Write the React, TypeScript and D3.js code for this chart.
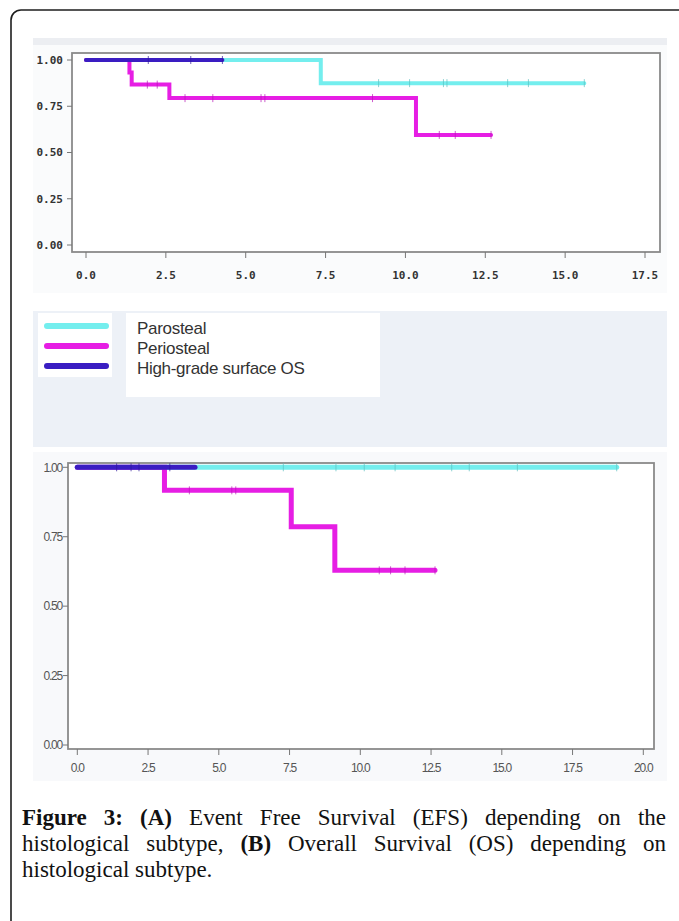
import React from "react";
import * as d3 from "d3";

// colours of the three subtypes
const groups = ["Parosteal", "Periosteal", "High-grade surface OS"];
const groupColors = ["#74eeee", "#e61ee4", "#3a1dc2"];

// (A) Event free survival: step times / survival, last follow-up, censor marks
const efsTimes = [[0, 7.35], [0, 1.36, 1.43, 2.61, 10.33], [0]];
const efsSurv = [[1, 0.875], [1, 0.933, 0.867, 0.794, 0.595], [1]];
const efsEnd = [15.6, 12.68, 4.27];
const efsCensor = [
  [9.16, 10.13, 11.19, 11.3, 13.2, 13.85, 15.6],
  [1.92, 2.23, 3.1, 3.97, 5.48, 5.6, 8.97, 11.06, 11.56, 12.68],
  [1.95, 3.28, 4.27],
];

// (B) Overall survival
const osTimes = [[0], [0, 3.08, 7.56, 9.1], [0]];
const osSurv = [[1], [1, 0.917, 0.786, 0.629], [1]];
const osEnd = [19.06, 12.64, 4.16];
const osCensor = [
  [7.28, 9.14, 10.14, 11.23, 13.23, 13.85, 15.55, 19.06],
  [3.96, 5.46, 5.6, 10.67, 11.07, 11.58, 12.64],
  [1.39, 1.9, 2.18, 3.27],
];

const yTicks = [0, 0.25, 0.5, 0.75, 1];
const efsXTicks = [0, 2.5, 5, 7.5, 10, 12.5, 15, 17.5];
const osXTicks = [0, 2.5, 5, 7.5, 10, 12.5, 15, 17.5, 20];

const captionLines = [
  [["Figure", 1], ["3:", 1], ["(A)", 1], ["Event", 0], ["Free", 0], ["Survival", 0], ["(EFS)", 0], ["depending", 0], ["on", 0], ["the", 0]],
  [["histological", 0], ["subtype,", 0], ["(B)", 1], ["Overall", 0], ["Survival", 0], ["(OS)", 0], ["depending", 0], ["on", 0]],
  [["histological", 0], ["subtype.", 0]],
];

function KMPanel(props: any) {
  const { x, y, times, surv, ends, censor, lineW, tickFmt, yFmt, mono } = props;
  const line = d3.line<[number, number]>()
    .x(d => x(d[0]))
    .y(d => y(d[1]))
    .curve(d3.curveStepAfter);
  const labelStyle = mono
    ? { fontFamily: "'DejaVu Sans Mono', monospace", fontWeight: 700, fontSize: 11, fill: "#333" }
    : { fontFamily: "'Liberation Sans', Arial, sans-serif", fontSize: 12, fill: "#555", letterSpacing: -1.2 };
  const [x0, x1] = props.box[0];
  const [y0, y1] = props.box[1];
  return (
    <g>
      <rect x={props.panel[0]} y={props.panel[1]} width={props.panel[2]} height={props.panel[3]} fill={props.panelFill} />
      {props.strip && <rect x={props.panel[0]} y={props.panel[1]} width={props.panel[2]} height={7} fill="#eceef2" />}
      <rect x={x0} y={y0} width={x1 - x0} height={y1 - y0} fill="#fff" stroke="#8a8a8a" strokeWidth={1.8} />
      {yTicks.map(t => (
        <g key={"y" + t}>
          <line x1={x0 - 5} x2={x0} y1={y(t)} y2={y(t)} stroke="#777" strokeWidth={1} />
          <text x={x0 - (mono ? 9 : 6)} y={y(t)} dy="0.35em" textAnchor="end" style={labelStyle as any}>{yFmt(t)}</text>
        </g>
      ))}
      {props.xTicks.map((t: number) => (
        <g key={"x" + t}>
          <line x1={x(t)} x2={x(t)} y1={y1} y2={y1 + 6} stroke="#777" strokeWidth={1} />
          <text x={x(t)} y={y1 + props.labelGap} textAnchor="middle" style={labelStyle as any}>{tickFmt(t)}</text>
        </g>
      ))}
      {groups.map((g, i) => {
        const pts: [number, number][] = times[i].map((t: number, j: number) => [t, surv[i][j]]);
        pts.push([ends[i], surv[i][surv[i].length - 1]]);
        const at = (t: number) => {
          let s = surv[i][0];
          times[i].forEach((tt: number, j: number) => { if (tt <= t) s = surv[i][j]; });
          return s;
        };
        const dark = d3.color(groupColors[i])!.darker(0.6).toString();
        return (
          <g key={g}>
            <path d={line(pts) || ""} fill="none" stroke={groupColors[i]} strokeWidth={lineW} strokeLinecap="round" />
            {censor[i].map((c: number, k: number) => (
              <line key={k} x1={x(c)} x2={x(c)} y1={y(at(c)) - 4} y2={y(at(c)) + 4} stroke={dark} strokeWidth={1} opacity={0.7} />
            ))}
          </g>
        );
      })}
    </g>
  );
}

function Caption() {
  const size = 23;
  const ctx = document.createElement("canvas").getContext("2d")!;
  const measure = (w: string, b: number) => {
    ctx.font = `${b ? "bold " : ""}${size}px "Liberation Serif"`;
    return ctx.measureText(w).width;
  };
  const left = 22, right = 666;
  const baselines = [825, 851, 877];
  return (
    <g style={{ fontFamily: "'Liberation Serif', serif", fontSize: size, fill: "#111" }}>
      {captionLines.map((words, li) => {
        const widths = words.map(w => measure(w[0] as string, w[1] as number));
        const total = d3.sum(widths);
        const last = li === captionLines.length - 1;
        const gap = last ? measure(" ", 0) : (right - left - total) / (words.length - 1);
        let cx = left;
        return words.map((w, k) => {
          const el = (
            <text key={li + "-" + k} x={cx} y={baselines[li]} fontWeight={w[1] ? 700 : 400}>{w[0]}</text>
          );
          cx += widths[k] + gap;
          return el;
        });
      })}
    </g>
  );
}

export default function App() {
  const xA = d3.scaleLinear().domain([0, 17.5]).range([86, 645]);
  const yA = d3.scaleLinear().domain([0, 1]).range([245, 60]);
  const xB = d3.scaleLinear().domain([0, 20]).range([77.3, 643.3]);
  const yB = d3.scaleLinear().domain([0, 1]).range([745, 467.3]);
  const legendY = d3.scalePoint<string>().domain(groups).range([326, 366]);

  return (
    <svg width={679} height={921} style={{ position: "absolute", left: 0, top: 0, display: "block", background: "#fff" }}>
      <rect x={11} y={10} width={720} height={960} rx={10} fill="#fff" stroke="#1e1e1e" strokeWidth={1.6} />

      <KMPanel x={xA} y={yA} times={efsTimes} surv={efsSurv} ends={efsEnd} censor={efsCensor}
        lineW={4} xTicks={efsXTicks} tickFmt={d3.format(".1f")} yFmt={d3.format(".2f")} mono
        box={[[72, 660], [53, 252]]} panel={[33, 38, 634, 255]} panelFill="#fafbfc" strip labelGap={27} />

      {/* legend */}
      <rect x={33} y={311} width={634} height={136} fill="#edf1f7" />
      <rect x={38} y={313} width={74} height={64} fill="#fff" />
      <rect x={126} y={313} width={254} height={84} fill="#fff" />
      {groups.map((g, i) => (
        <g key={g}>
          <line x1={47} x2={106} y1={legendY(g)} y2={legendY(g)} stroke={groupColors[i]} strokeWidth={6} strokeLinecap="round" />
          <text x={137} y={legendY(g)! + 8} style={{ fontFamily: "'Liberation Sans', Arial, sans-serif", fontSize: 17, fill: "#333", letterSpacing: -0.3 }}>{g}</text>
        </g>
      ))}

      <KMPanel x={xB} y={yB} times={osTimes} surv={osSurv} ends={osEnd} censor={osCensor}
        lineW={5} xTicks={osXTicks} tickFmt={d3.format(".1f")} yFmt={d3.format(".2f")}
        box={[[68, 654], [463, 749]]} panel={[33, 452, 634, 329]} panelFill="#f8f9fb" labelGap={23} />

      <Caption />
    </svg>
  );
}
